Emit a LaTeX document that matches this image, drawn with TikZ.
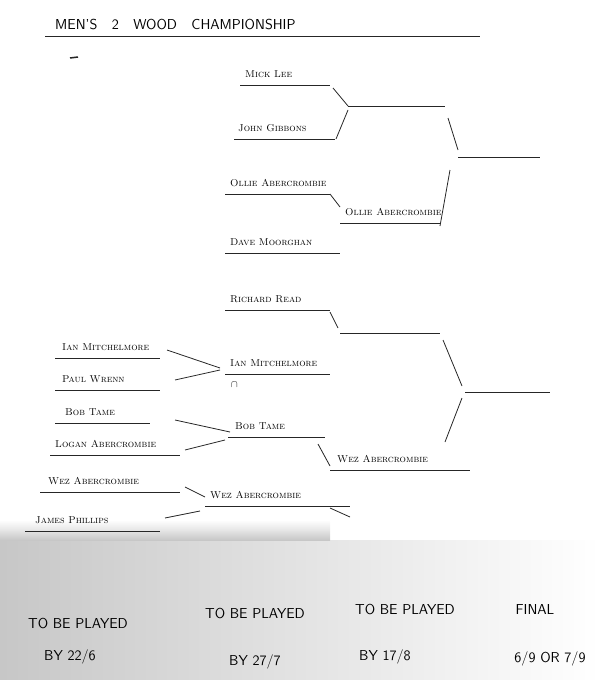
\documentclass[tikz,border=0pt]{standalone}
\begin{document}
\begin{tikzpicture}[x=1pt,y=-1pt,
  nm/.style={anchor=base west,font=\scshape\normalsize,inner sep=0pt},
  ln/.style={line width=0.8pt,black!85},
  hd/.style={font=\sffamily\Large,anchor=base}]
\useasboundingbox (0,0) rectangle (600,680);
\shade[left color=black!22,right color=white] (0,540) rectangle (600,680);
\shade[top color=white,bottom color=black!22,middle color=black!10] (0,520) rectangle (330,540);
\node[anchor=base west,font=\sffamily\Large,inner sep=0pt] (title) at (55,29) {MEN'S\quad 2\quad WOOD\quad CHAMPIONSHIP};
\draw[ln] (45,36) -- (480,36);
\draw[ln,line width=1.5pt] (70,58) -- (78,57);
\foreach \n/\t/\x/\y/\a/\b in {
 ml/Mick Lee/245/77/240/330,
 jg/John Gibbons/238/131/234/335,
 oa/Ollie Abercrombie/230/186/225/330,
 dm/Dave Moorghan/230/245/225/340,
 oaw/Ollie Abercrombie/345/215/340/440,
 rr/Richard Read/230/302/225/330,
 imw/Ian Mitchelmore/230/366/225/330,
 im/Ian Mitchelmore/62/350/55/160,
 pw/Paul Wrenn/62/382/55/160,
 bt/Bob Tame/65/415/55/150,
 la/Logan Abercrombie/55/447/50/180,
 btw/Bob Tame/235/429/228/325,
 waw/Wez Abercrombie/337/462/330/470,
 wa/Wez Abercrombie/48/484/40/180,
 jp/James Phillips/35/523/25/160,
 wam/Wez Abercrombie/210/498/205/350}
 {\node[nm] (\n) at (\x,\y) {\t};
  \draw[ln] (\a,\y+8) -- (\b,\y+8);}
\node[nm] (mark) at (231,387) {$\cap$};
\coordinate (r1) at (348,106); \coordinate (r1e) at (445,106);
\coordinate (r2) at (458,157); \coordinate (r2e) at (540,157);
\coordinate (r3) at (340,333); \coordinate (r3e) at (440,333);
\coordinate (r4) at (465,392); \coordinate (r4e) at (550,392);
\draw[ln] (r1) -- (r1e); \draw[ln] (r2) -- (r2e);
\draw[ln] (r3) -- (r3e); \draw[ln] (r4) -- (r4e);
\draw[ln] (333,88) -- (r1); \draw[ln] (336,139) -- (348,110);
\draw[ln] (330,194) -- (340,207);
\draw[ln] (448,118) -- (458,150); \draw[ln] (450,170) -- (440,226);
\draw[ln] (330,312) -- (338,328);
\draw[ln] (167,350) -- (220,368); \draw[ln] (175,380) -- (220,370);
\draw[ln] (175,420) -- (230,432); \draw[ln] (185,450) -- (225,440);
\draw[ln] (318,444) -- (330,466);
\draw[ln] (443,340) -- (462,386); \draw[ln] (462,398) -- (445,442);
\draw[ln] (185,487) -- (205,497); \draw[ln] (165,518) -- (200,511);
\draw[ln] (330,508) -- (350,517);
\node[hd] (h1) at (78,628) {TO BE PLAYED};
\node[hd] (d1) at (70,660) {BY 22/6};
\node[hd] (h2) at (255,618) {TO BE PLAYED};
\node[hd] (d2) at (255,665) {BY 27/7};
\node[hd] (h3) at (405,614) {TO BE PLAYED};
\node[hd] (d3) at (385,660) {BY 17/8};
\node[hd] (h4) at (535,614) {FINAL};
\node[hd] (d4) at (550,662) {6/9 OR 7/9};
\end{tikzpicture}
\end{document}
